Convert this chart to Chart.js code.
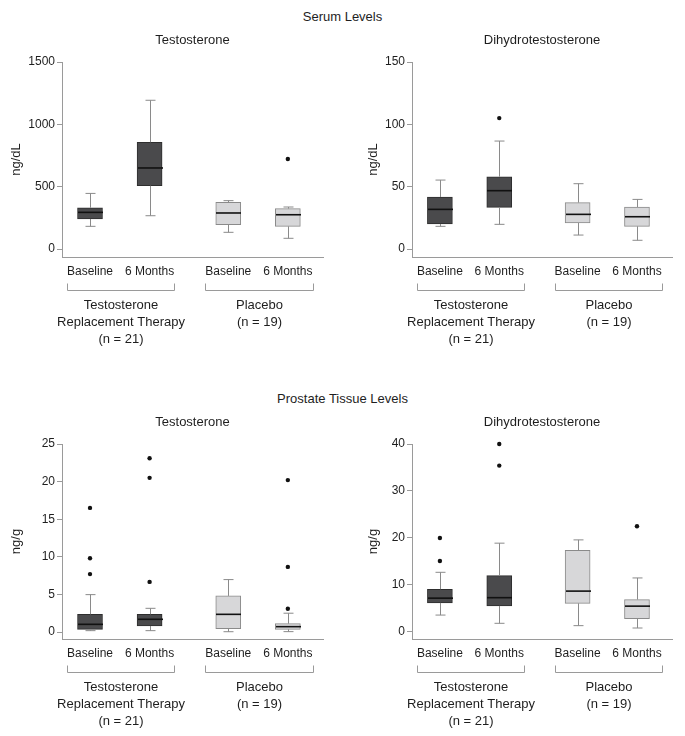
<!DOCTYPE html>
<html><head><meta charset="utf-8">
<script src="https://cdn.jsdelivr.net/npm/chart.js@4.4.0/dist/chart.umd.min.js"></script>
<style>
body{margin:0;width:685px;height:736px;background:#fff;position:relative;overflow:hidden;font-family:"Liberation Sans",Arial,sans-serif;color:#1e1e1e}
.hdr{position:absolute;left:0;width:685px;text-align:center;font-size:13px;line-height:16px}
canvas{position:absolute}
</style></head><body>
<div class="hdr" style="top:9px">Serum Levels</div>
<div class="hdr" style="top:391px">Prostate Tissue Levels</div>
<canvas id="c1" width="342" height="326" style="left:0;top:28px"></canvas>
<canvas id="c2" width="343" height="326" style="left:342px;top:28px"></canvas>
<canvas id="c3" width="342" height="326" style="left:0;top:410px"></canvas>
<canvas id="c4" width="343" height="326" style="left:342px;top:410px"></canvas>
<script>
// ---- categories ----
const timepoints = ["Baseline", "6 Months", "Baseline", "6 Months"];
const groupOfSlot = [0, 0, 1, 1];
const groupLabels = [["Testosterone", "Replacement Therapy", "(n = 21)"], ["Placebo", "(n = 19)"]];

// ---- Serum testosterone (ng/dL) ----
const serumT_min = [182, 267, 134, 86];
const serumT_q1 = [241, 508, 195, 182];
const serumT_med = [294, 650, 289, 275];
const serumT_q3 = [331, 856, 374, 324];
const serumT_max = [446, 1193, 388, 337];
const serumT_out = [[], [], [], [722]];
const serumT_ticks = [0, 500, 1000, 1500];

// ---- Serum DHT (ng/dL) ----
const serumD_min = [18.2, 19.8, 11.2, 7.0];
const serumD_q1 = [20.1, 33.4, 20.9, 18.2];
const serumD_med = [31.8, 46.8, 27.8, 25.9];
const serumD_q3 = [41.7, 58.0, 37.2, 33.7];
const serumD_max = [55.3, 86.6, 52.4, 39.8];
const serumD_out = [[], [105], [], []];
const serumD_ticks = [0, 50, 100, 150];

// ---- Prostate tissue testosterone (ng/g) ----
const tissueT_min = [0.18, 0.18, 0.04, 0.05];
const tissueT_q1 = [0.36, 0.8, 0.44, 0.36];
const tissueT_med = [1.02, 1.69, 2.35, 0.71];
const tissueT_q3 = [2.35, 2.35, 4.8, 1.11];
const tissueT_max = [4.97, 3.15, 6.97, 2.5];
const tissueT_out = [[16.5, 9.8, 7.7], [23.1, 20.5, 6.66], [], [20.2, 8.66, 3.1]];
const tissueT_ticks = [0, 5, 10, 15, 20, 25];

// ---- Prostate tissue DHT (ng/g) ----
const tissueD_min = [3.6, 1.85, 1.35, 0.85];
const tissueD_q1 = [6.2, 5.55, 6.1, 2.85];
const tissueD_med = [7.2, 7.3, 8.7, 5.5];
const tissueD_q3 = [9.1, 12.0, 17.4, 6.9];
const tissueD_max = [12.7, 18.9, 19.6, 11.5];
const tissueD_out = [[20.0, 15.1], [40, 35.4], [], [22.5]];
const tissueD_ticks = [0, 10, 20, 30, 40];

// ---- styling / layout ----
const GROUP_GAP = 0.32;
const FONT = '"Liberation Sans", Arial, sans-serif';
const TEXT = "#1e1e1e";
const boxFill = ["#4a4a4c", "#d7d7d9"];
const boxEdge = ["#2e2e2e", "#8a8a8a"];
const whiskerColor = "#8a8a8a";
const axisColor = "#9a9a9a";
Chart.defaults.font.family = FONT;
Chart.defaults.color = TEXT;

const xs = timepoints.map((_, i) => i + groupOfSlot[i] * GROUP_GAP);

function makePanel(id, cfg) {
  const extras = {
    id: 'boxExtras',
    afterDatasetsDraw(chart) {
      const ctx = chart.ctx, xS = chart.scales.x, yS = chart.scales.y;
      const meta = chart.getDatasetMeta(0);
      ctx.save();
      xs.forEach((xv, i) => {
        const px = Math.round(xS.getPixelForValue(xv)) + 0.5;
        const yMin = yS.getPixelForValue(cfg.min[i]);
        const yQ1 = yS.getPixelForValue(cfg.q1[i]);
        const yMed = yS.getPixelForValue(cfg.med[i]);
        const yQ3 = yS.getPixelForValue(cfg.q3[i]);
        const yMax = yS.getPixelForValue(cfg.max[i]);
        ctx.strokeStyle = whiskerColor;
        ctx.lineWidth = 1;
        ctx.beginPath();
        ctx.moveTo(px, yQ3); ctx.lineTo(px, yMax);
        ctx.moveTo(px - 5, yMax); ctx.lineTo(px + 5, yMax);
        ctx.moveTo(px, yQ1); ctx.lineTo(px, yMin);
        ctx.moveTo(px - 5, yMin); ctx.lineTo(px + 5, yMin);
        ctx.stroke();
        const w = meta.data[i].width;
        ctx.strokeStyle = "#111";
        ctx.lineWidth = 1.6;
        ctx.beginPath();
        ctx.moveTo(px - w / 2, yMed); ctx.lineTo(px + w / 2, yMed);
        ctx.stroke();
      });
      ctx.restore();
    },
    afterDraw(chart) {
      const ctx = chart.ctx, xS = chart.scales.x, area = chart.chartArea;
      ctx.save();
      groupLabels.forEach((lines, g) => {
        const slots = groupOfSlot.map((s, i) => s === g ? i : -1).filter(i => i >= 0);
        const f = slots[0], l = slots[slots.length - 1];
        ctx.font = '12px ' + FONT;
        const left = Math.round(xS.getPixelForValue(xs[f]) - ctx.measureText(timepoints[f]).width / 2) + 0.5;
        const right = Math.round(xS.getPixelForValue(xs[l]) + ctx.measureText(timepoints[l]).width / 2) + 0.5;
        const yB = Math.round(area.bottom + 33) + 0.5;
        ctx.strokeStyle = axisColor; ctx.lineWidth = 1;
        ctx.beginPath();
        ctx.moveTo(left, yB - 7); ctx.lineTo(left, yB); ctx.lineTo(right, yB); ctx.lineTo(right, yB - 7);
        ctx.stroke();
        ctx.font = '13px ' + FONT;
        ctx.fillStyle = TEXT;
        ctx.textAlign = 'center'; ctx.textBaseline = 'middle';
        lines.forEach((t, k) => ctx.fillText(t, (left + right) / 2, yB + 15 + k * 17));
      });
      ctx.restore();
    }
  };
  const points = [];
  cfg.out.forEach((arr, i) => arr.forEach(v => points.push({x: xs[i], y: v})));
  return new Chart(document.getElementById(id), {
    type: 'bar',
    data: {
      datasets: [{
        type: 'bar',
        data: xs.map((x, i) => ({x: x, y: [cfg.q1[i], cfg.q3[i]]})),
        backgroundColor: xs.map((_, i) => boxFill[groupOfSlot[i]]),
        borderColor: xs.map((_, i) => boxEdge[groupOfSlot[i]]),
        borderWidth: 1,
        borderSkipped: false,
        barThickness: 25,
        grouped: false
      }, {
        type: 'scatter',
        data: points,
        clip: false,
        pointRadius: 2.2,
        pointBackgroundColor: '#111',
        pointBorderWidth: 0
      }]
    },
    options: {
      responsive: false,
      animation: false,
      layout: {padding: {left: 0, right: cfg.padRight, top: 0, bottom: 0}},
      plugins: {
        legend: {display: false},
        tooltip: {enabled: false},
        title: {
          display: true, text: cfg.title, fullSize: false,
          font: {size: 13, weight: 'normal'}, color: TEXT,
          padding: {top: 5, bottom: 13.4}
        }
      },
      scales: {
        x: {
          type: 'linear', offset: false,
          min: xs[0] - 0.47, max: xs[xs.length - 1] + 0.59,
          afterBuildTicks: s => { s.ticks = xs.map(v => ({value: v})); },
          afterFit: s => { s.height = 97; },
          grid: {display: false, drawTicks: false, tickLength: 0},
          border: {display: true, color: axisColor, width: 1},
          ticks: {
            callback: (v, i) => timepoints[i],
            autoSkip: false, maxRotation: 0, minRotation: 0,
            font: {size: 12}, color: TEXT, padding: 7
          }
        },
        y: {
          type: 'linear',
          min: cfg.floor, max: cfg.ticks[cfg.ticks.length - 1],
          afterBuildTicks: s => { s.ticks = cfg.ticks.map(v => ({value: v})); },
          afterFit: s => { s.width = cfg.yWidth; },
          grid: {display: true, drawOnChartArea: false, drawTicks: true, tickLength: 5, color: axisColor},
          border: {display: true, color: axisColor, width: 1},
          ticks: {font: {size: 12}, color: TEXT, padding: 2, callback: v => String(v)},
          title: {display: true, text: cfg.unit, font: {size: 13}, color: TEXT, padding: {top: cfg.titlePad, bottom: 0}}
        }
      }
    },
    plugins: [extras]
  });
}

makePanel('c1', {title: 'Testosterone', unit: 'ng/dL', min: serumT_min, q1: serumT_q1, med: serumT_med, q3: serumT_q3, max: serumT_max, out: serumT_out, ticks: serumT_ticks, floor: -64, yWidth: 62, padRight: 19, titlePad: 9});
makePanel('c2', {title: 'Dihydrotestosterone', unit: 'ng/dL', min: serumD_min, q1: serumD_q1, med: serumD_med, q3: serumD_q3, max: serumD_max, out: serumD_out, ticks: serumD_ticks, floor: -6.4, yWidth: 70, padRight: 13, titlePad: 24});
makePanel('c3', {title: 'Testosterone', unit: 'ng/g', min: tissueT_min, q1: tissueT_q1, med: tissueT_med, q3: tissueT_q3, max: tissueT_max, out: tissueT_out, ticks: tissueT_ticks, floor: -0.93, yWidth: 62, padRight: 19, titlePad: 9});
makePanel('c4', {title: 'Dihydrotestosterone', unit: 'ng/g', min: tissueD_min, q1: tissueD_q1, med: tissueD_med, q3: tissueD_q3, max: tissueD_max, out: tissueD_out, ticks: tissueD_ticks, floor: -1.49, yWidth: 70, padRight: 13, titlePad: 24});
</script>
</body></html>
